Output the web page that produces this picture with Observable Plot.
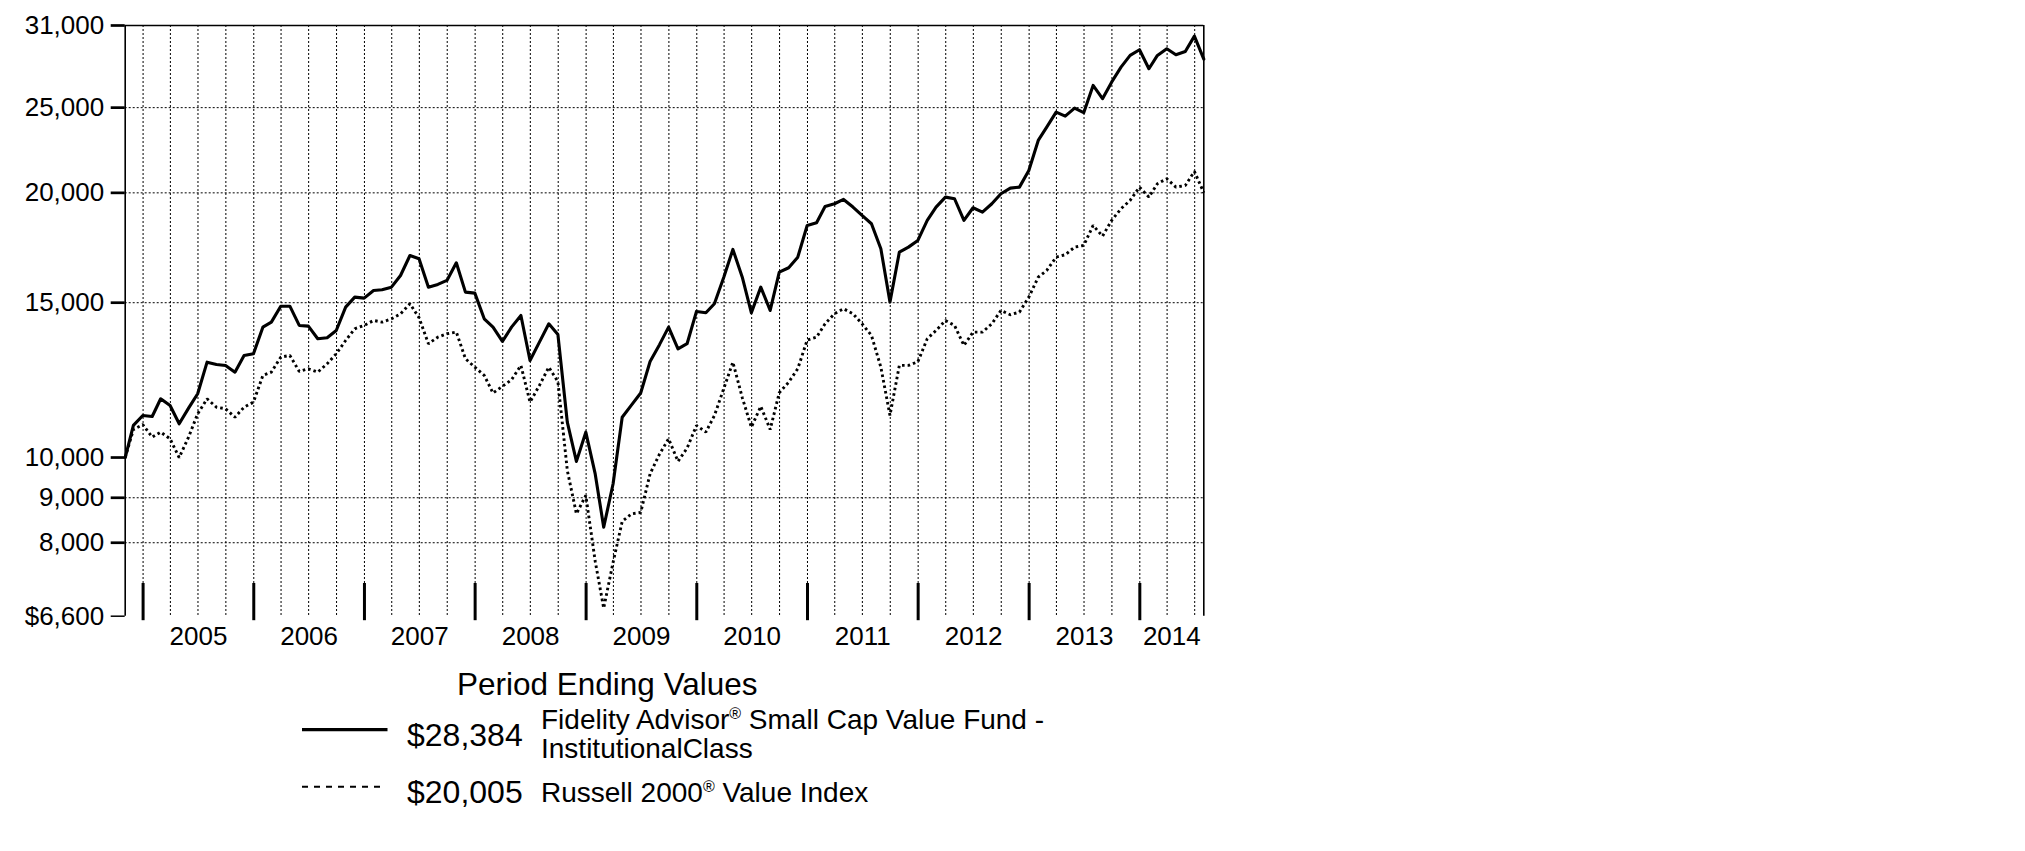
<!DOCTYPE html>
<html>
<head>
<meta charset="utf-8">
<script src="https://cdn.jsdelivr.net/npm/d3@7"></script>
<script src="https://cdn.jsdelivr.net/npm/@observablehq/plot@0.6"></script>
<style>
  html, body { margin: 0; padding: 0; background: #fff; }
  body { font-family: "Liberation Sans", Arial, sans-serif; width: 2025px; height: 851px; overflow: hidden; }
  #chart svg, #legend { display: block; }
</style>
</head>
<body>
<div id="chart"></div>
<svg id="legend" width="1230" height="191"></svg>
<script>
// ---- Data ----
const dates = [
  "2004-11-03","2004-11-30","2004-12-31",
  "2005-01-31","2005-02-28","2005-03-31","2005-04-30","2005-05-31","2005-06-30","2005-07-31","2005-08-31","2005-09-30","2005-10-31","2005-11-30","2005-12-31",
  "2006-01-31","2006-02-28","2006-03-31","2006-04-30","2006-05-31","2006-06-30","2006-07-31","2006-08-31","2006-09-30","2006-10-31","2006-11-30","2006-12-31",
  "2007-01-31","2007-02-28","2007-03-31","2007-04-30","2007-05-31","2007-06-30","2007-07-31","2007-08-31","2007-09-30","2007-10-31","2007-11-30","2007-12-31",
  "2008-01-31","2008-02-29","2008-03-31","2008-04-30","2008-05-31","2008-06-30","2008-07-31","2008-08-31","2008-09-30","2008-10-31","2008-11-30","2008-12-31",
  "2009-01-31","2009-02-28","2009-03-31","2009-04-30","2009-05-31","2009-06-30","2009-07-31","2009-08-31","2009-09-30","2009-10-31","2009-11-30","2009-12-31",
  "2010-01-31","2010-02-28","2010-03-31","2010-04-30","2010-05-31","2010-06-30","2010-07-31","2010-08-31","2010-09-30","2010-10-31","2010-11-30","2010-12-31",
  "2011-01-31","2011-02-28","2011-03-31","2011-04-30","2011-05-31","2011-06-30","2011-07-31","2011-08-31","2011-09-30","2011-10-31","2011-11-30","2011-12-31",
  "2012-01-31","2012-02-29","2012-03-31","2012-04-30","2012-05-31","2012-06-30","2012-07-31","2012-08-31","2012-09-30","2012-10-31","2012-11-30","2012-12-31",
  "2013-01-31","2013-02-28","2013-03-31","2013-04-30","2013-05-31","2013-06-30","2013-07-31","2013-08-31","2013-09-30","2013-10-31","2013-11-30","2013-12-31",
  "2014-01-31","2014-02-28","2014-03-31","2014-04-30","2014-05-31","2014-06-30","2014-07-31"
];

const fundValues = [
  10000, 10880, 11165,
  11135, 11663, 11461, 10924, 11380, 11817, 12838, 12760, 12728, 12506, 13065, 13123,
  14070, 14255, 14864, 14864, 14133, 14108, 13649, 13685, 13948, 14826, 15220, 15180,
  15489, 15516, 15624, 16109, 16975, 16830, 15624, 15735, 15901, 16654, 15421, 15380,
  14381, 14070, 13553, 14070, 14507, 12894, 13530, 14195, 13800, 10970, 9900, 10687,
  9580, 8332, 9336, 11114, 11480, 11840, 12860, 13440, 14070, 13295, 13472, 14661,
  14610, 14959, 16038, 17246, 16038, 14610, 15624, 14699, 16250, 16438, 16901, 18364,
  18494, 19301, 19437, 19658, 19270, 18851, 18447, 17277, 15024, 17124, 17350, 17656,
  18607, 19265, 19777, 19693, 18607, 19235, 19014, 19437, 19953, 20249, 20302, 21210,
  22943, 23755, 24708, 24451, 24967, 24669, 26498, 25591, 26727, 27798, 28664, 29095,
  27682, 28664, 29171, 28716, 28965, 30151, 28384
];

const indexValues = [
  10000, 10760, 10900,
  10548, 10687, 10503, 10000, 10548, 11214, 11663, 11409, 11362, 11114, 11409, 11561,
  12397, 12506, 13006, 13065, 12530, 12617, 12506, 12783, 13123, 13587, 14010, 14133,
  14318, 14255, 14381, 14571, 14959, 14425, 13472, 13706, 13830, 13890, 12955, 12670,
  12400, 11840, 12050, 12260, 12728, 11561, 12078, 12670, 12200, 9667, 8630, 9054,
  7620, 6740, 7600, 8460, 8630, 8660, 9583, 10090, 10503, 9900, 10250, 10876,
  10690, 11160, 11980, 12838, 11700, 10827, 11435, 10760, 11850, 12180, 12620, 13600,
  13706, 14195, 14571, 14764, 14571, 14195, 13768, 12670, 11165, 12728, 12728, 12850,
  13649, 13948, 14318, 14133, 13411, 13887, 13887, 14195, 14699, 14534, 14634, 15220,
  16038, 16322, 16901, 17007, 17350, 17426, 18364, 17856, 18607, 19184, 19607, 20302,
  19777, 20483, 20753, 20302, 20392, 21153, 20005
];

const yTicks = [6600, 8000, 9000, 10000, 15000, 20000, 25000, 31000];
const yGrid = [8000, 9000, 15000, 20000, 25000];
const years = [2005, 2006, 2007, 2008, 2009, 2010, 2011, 2012, 2013, 2014];
const quarterMonths = [0, 3, 6, 9];

const legendTitle = "Period Ending Values";
const fundName = ["Fidelity Advisor", "®", " Small Cap Value Fund -", "InstitutionalClass"];
const indexName = ["Russell 2000", "®", " Value Index"];

// ---- Build table ----
const parse = d3.utcParse("%Y-%m-%d");
const rows = dates.map((d, i) => ({date: parse(d), fund: fundValues[i], index: indexValues[i]}));
const start = rows[0].date, end = rows[rows.length - 1].date;
const yearStarts = years.map(y => new Date(Date.UTC(y, 0, 1)));
const quarterStarts = years.flatMap(y => quarterMonths.map(m => new Date(Date.UTC(y, m, 1))))
  .filter(d => d > start && d < end);
const yearLabels = years.map(y => {
  const a = Math.max(+new Date(Date.UTC(y, 0, 1)), +start);
  const b = Math.min(+new Date(Date.UTC(y + 1, 0, 1)), +end);
  return {mid: new Date((a + b) / 2), label: String(y)};
});
const fmt = d3.format(",");
const tickFmt = d => (d === yTicks[0] ? "$" : "") + fmt(d);

const FONT = '"Liberation Sans", Arial, Helvetica, sans-serif';

const chart = Plot.plot({
  width: 1230,
  height: 660,
  marginLeft: 124.7,
  marginRight: 26.7,
  marginTop: 25,
  marginBottom: 44.3,
  style: {fontFamily: FONT, fontSize: "26px", color: "#000", background: "#fff", overflow: "visible"},
  x: {type: "utc", domain: [start, end], axis: null},
  y: {type: "log", domain: [yTicks[0], yTicks[yTicks.length - 1]]},
  marks: [
    Plot.ruleX(quarterStarts, {stroke: "#000", strokeWidth: 1, strokeDasharray: "2,2"}),
    Plot.ruleY(yGrid, {stroke: "#000", strokeWidth: 1, strokeDasharray: "2,2"}),
    Plot.ruleY([yTicks[yTicks.length - 1]], {stroke: "#000", strokeWidth: 1.6}),
    Plot.ruleX([start, end], {stroke: "#000", strokeWidth: 1.6}),
    Plot.tickX(yearStarts, {x: d => d, stroke: "#000", strokeWidth: 3, insetTop: 558, insetBottom: -4.5}),
    Plot.axisY(yTicks.slice(1), {anchor: "left", tickFormat: tickFmt, tickSize: 14, tickPadding: 7, fontSize: 26, strokeWidth: 2.7, label: null}),
    Plot.axisY(yTicks.slice(0, 1), {anchor: "left", tickFormat: tickFmt, tickSize: 14, tickPadding: 7, fontSize: 26, strokeWidth: 1.5, label: null}),
    Plot.text(yearLabels, {x: "mid", text: "label", frameAnchor: "bottom", dy: 20.5, lineAnchor: "middle", fontSize: 26, fill: "#000"}),
    Plot.line(rows, {x: "date", y: "index", stroke: "#000", strokeWidth: 2.9, strokeDasharray: "2.6,3", strokeLinecap: "butt", strokeLinejoin: "miter", curve: "linear"}),
    Plot.line(rows, {x: "date", y: "fund", stroke: "#000", strokeWidth: 3.1, curve: "linear"})
  ]
});
document.getElementById("chart").appendChild(chart);

// ---- Legend (below the chart) ----
const money = d3.format("$,");
const lg = d3.select("#legend")
  .style("font-family", FONT)
  .attr("fill", "#000");

lg.append("text").attr("x", 457).attr("y", 34.5).attr("font-size", 31.5).text(legendTitle);

lg.append("line").attr("x1", 302).attr("x2", 387.5).attr("y1", 69.7).attr("y2", 69.7)
  .attr("stroke", "#000").attr("stroke-width", 3.2);
lg.append("text").attr("x", 407).attr("y", 86.4).attr("font-size", 32).text(money(fundValues[fundValues.length - 1]));
const t1 = lg.append("text").attr("x", 541).attr("y", 69.4).attr("font-size", 28);
t1.append("tspan").text(fundName[0]);
t1.append("tspan").attr("font-size", 16).attr("dy", -10).text(fundName[1]);
t1.append("tspan").attr("dy", 10).text(fundName[2]);
lg.append("text").attr("x", 541).attr("y", 97.8).attr("font-size", 28).text(fundName[3]);

lg.append("line").attr("x1", 302).attr("x2", 385).attr("y1", 126.7).attr("y2", 126.7)
  .attr("stroke", "#000").attr("stroke-width", 2).attr("stroke-dasharray", "6,6");
lg.append("text").attr("x", 407).attr("y", 143.2).attr("font-size", 32).text(money(indexValues[indexValues.length - 1]));
const t2 = lg.append("text").attr("x", 541).attr("y", 141.7).attr("font-size", 28);
t2.append("tspan").text(indexName[0]);
t2.append("tspan").attr("font-size", 16).attr("dy", -10).text(indexName[1]);
t2.append("tspan").attr("dy", 10).text(indexName[2]);
</script>
</body>
</html>
